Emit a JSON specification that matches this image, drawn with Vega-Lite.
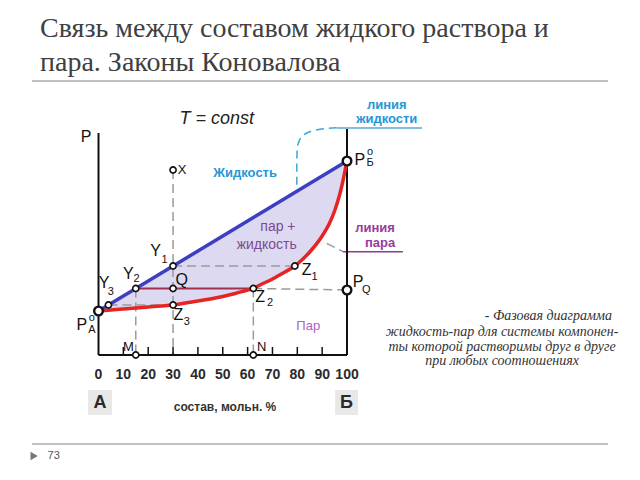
{
  "$schema": "https://vega.github.io/schema/vega-lite/v6.json",
  "autosize": {"type": "fit", "contains": "padding"},
  "width": 640,
  "height": 480,
  "padding": 0,
  "background": "white",
  "config": {"view": {"stroke": null}, "text": {"font": "Liberation Sans", "baseline": "middle"}},
  "encoding": {
    "x": {"field": "c", "type": "quantitative", "scale": {"domain": [-39.64, 217.9], "nice": false, "zero": false}, "axis": null},
    "y": {"field": "v", "type": "quantitative", "scale": {"domain": [-125, 355], "nice": false, "zero": false}, "axis": null}
  },
  "datasets": {
    "curve": [
      {"c": 0, "liq": 44, "vap": 44}, {"c": 5, "liq": 51.5, "vap": 45}, {"c": 10, "liq": 59, "vap": 46},
      {"c": 15, "liq": 66.5, "vap": 47}, {"c": 20, "liq": 74, "vap": 48}, {"c": 25, "liq": 81.5, "vap": 49},
      {"c": 30, "liq": 89, "vap": 50}, {"c": 35, "liq": 96.5, "vap": 52}, {"c": 40, "liq": 104, "vap": 54},
      {"c": 45, "liq": 111.5, "vap": 56}, {"c": 50, "liq": 119, "vap": 58.5}, {"c": 55, "liq": 126.5, "vap": 61.5},
      {"c": 60, "liq": 134, "vap": 65}, {"c": 62.3, "liq": 137.45, "vap": 66.5}, {"c": 65, "liq": 141.5, "vap": 70},
      {"c": 70, "liq": 149, "vap": 76}, {"c": 75, "liq": 156.5, "vap": 83}, {"c": 79, "liq": 162.5, "vap": 89},
      {"c": 80, "liq": 164, "vap": 91}, {"c": 85, "liq": 171.5, "vap": 103}, {"c": 90, "liq": 179, "vap": 119},
      {"c": 93, "liq": 183.5, "vap": 132}, {"c": 95, "liq": 186.5, "vap": 144}, {"c": 97, "liq": 189.5, "vap": 160},
      {"c": 98, "liq": 191, "vap": 170}, {"c": 99, "liq": 192.5, "vap": 182}, {"c": 100, "liq": 194, "vap": 194}
    ]
  },
  "layer": [
    {
      "data": {"name": "curve"},
      "mark": {"type": "area", "color": "#dcd9f0", "opacity": 1},
      "encoding": {
        "y": {"field": "liq", "type": "quantitative", "scale": {"domain": [-125, 355], "nice": false, "zero": false}, "axis": null},
        "y2": {"field": "vap"}
      }
    },
    {
      "data": {"values": [
        {"c": -26.8, "v": 274, "c2": 205, "v2": 274},
        {"c": -26.8, "v": -89, "c2": 205, "v2": -89}
      ]},
      "mark": {"type": "rule", "color": "#c0c0c0", "strokeWidth": 2},
      "encoding": {"x2": {"field": "c2"}, "y2": {"field": "v2"}}
    },
    {
      "data": {"values": [
        {"c": -4.2, "v": -35, "c2": 5.4, "v2": -60},
        {"c": 95.2, "v": -35, "c2": 104.4, "v2": -60}
      ]},
      "mark": {"type": "rect", "color": "#e8e8e8"},
      "encoding": {"x2": {"field": "c2"}, "y2": {"field": "v2"}}
    },
    {
      "data": {"values": [
        {"c": 30, "v": 89, "c2": 79, "v2": 89},
        {"c": 62.3, "v": 66.5, "c2": 100, "v2": 65},
        {"c": 4, "v": 50, "c2": 30, "v2": 50},
        {"c": 15, "v": 66.5, "c2": 15, "v2": 0},
        {"c": 30, "v": 185, "c2": 30, "v2": 0},
        {"c": 62.3, "v": 66.5, "c2": 62.3, "v2": 0},
        {"c": 91.8, "v": 111.7, "c2": 98.4, "v2": 103.3}
      ]},
      "mark": {"type": "rule", "color": "#9a9a9a", "strokeWidth": 1.5, "strokeDash": [9, 5]},
      "encoding": {"x2": {"field": "c2"}, "y2": {"field": "v2"}}
    },
    {
      "data": {"values": [
        {"c": 95.9, "v": 227.3, "o": 1}, {"c": 86.4, "v": 224.3, "o": 2}, {"c": 81.8, "v": 218.3, "o": 3},
        {"c": 80.0, "v": 208.3, "o": 4}, {"c": 79.8, "v": 191.7, "o": 5}, {"c": 79.8, "v": 165, "o": 6}
      ]},
      "mark": {"type": "line", "color": "#3aa6d8", "strokeWidth": 1.5, "strokeDash": [8, 5], "interpolate": "monotone"},
      "encoding": {"order": {"field": "o"}}
    },
    {
      "data": {"values": [
        {"c": 96, "v": 227, "c2": 130.2, "v2": 227}
      ]},
      "mark": {"type": "rule", "color": "#5aa6d6", "strokeWidth": 1.5},
      "encoding": {"x2": {"field": "c2"}, "y2": {"field": "v2"}}
    },
    {
      "data": {"values": [
        {"c": 98.4, "v": 103.3, "c2": 122.5, "v2": 103.3}
      ]},
      "mark": {"type": "rule", "color": "#8b3a8f", "strokeWidth": 1.5},
      "encoding": {"x2": {"field": "c2"}, "y2": {"field": "v2"}}
    },
    {
      "data": {"values": [
        {"c": 0, "v": 0, "c2": 0, "v2": 222},
        {"c": 100, "v": 0, "c2": 100, "v2": 226},
        {"c": 0, "v": 0, "c2": 100, "v2": 0}
      ]},
      "mark": {"type": "rule", "color": "#111111", "strokeWidth": 2},
      "encoding": {"x2": {"field": "c2"}, "y2": {"field": "v2"}}
    },
    {
      "data": {"values": [
        {"c": 10, "v": 0, "v2": 8}, {"c": 20, "v": 0, "v2": 8}, {"c": 30, "v": 0, "v2": 8},
        {"c": 40, "v": 0, "v2": 8}, {"c": 50, "v": 0, "v2": 8}, {"c": 60, "v": 0, "v2": 8},
        {"c": 70, "v": 0, "v2": 8}, {"c": 80, "v": 0, "v2": 8}, {"c": 90, "v": 0, "v2": 8}
      ]},
      "mark": {"type": "rule", "color": "#111111", "strokeWidth": 1.5},
      "encoding": {"y2": {"field": "v2"}}
    },
    {
      "data": {"values": [
        {"c": 15, "v": 66.5, "c2": 62.3, "v2": 66.5}
      ]},
      "mark": {"type": "rule", "color": "#a03050", "strokeWidth": 2},
      "encoding": {"x2": {"field": "c2"}, "y2": {"field": "v2"}}
    },
    {
      "data": {"name": "curve"},
      "mark": {"type": "line", "color": "#3d3fc2", "strokeWidth": 3.5},
      "encoding": {
        "y": {"field": "liq", "type": "quantitative", "scale": {"domain": [-125, 355], "nice": false, "zero": false}, "axis": null}
      }
    },
    {
      "data": {"name": "curve"},
      "mark": {"type": "line", "color": "#e62424", "strokeWidth": 3.5, "interpolate": "monotone"},
      "encoding": {
        "y": {"field": "vap", "type": "quantitative", "scale": {"domain": [-125, 355], "nice": false, "zero": false}, "axis": null}
      }
    },
    {
      "data": {"values": [
        {"c": 30, "v": 89}, {"c": 79, "v": 89}, {"c": 15, "v": 66.5}, {"c": 30, "v": 66.5},
        {"c": 62.3, "v": 66.5}, {"c": 4, "v": 50}, {"c": 30, "v": 50}, {"c": 30, "v": 185},
        {"c": 15, "v": 0}, {"c": 62.3, "v": 0}
      ]},
      "mark": {"type": "point", "shape": "circle", "filled": false, "fill": "white", "fillOpacity": 1, "stroke": "#111111", "strokeWidth": 1.6, "size": 38, "opacity": 1}
    },
    {
      "data": {"values": [
        {"c": 0, "v": 44}, {"c": 100, "v": 194}, {"c": 100, "v": 65}
      ]},
      "mark": {"type": "point", "shape": "circle", "filled": false, "fill": "white", "fillOpacity": 1, "stroke": "#111111", "strokeWidth": 2.4, "size": 75, "opacity": 1}
    },
    {
      "data": {"values": [{"c": -25.9, "v": -101}]},
      "mark": {"type": "point", "shape": "triangle-right", "filled": true, "color": "#777777", "size": 70, "opacity": 1}
    },
    {
      "data": {"values": [
        {"c": -23.54, "v": 318, "t": "Связь между составом жидкого раствора и"},
        {"c": -23.54, "v": 284, "t": "пара. Законы Коновалова"}
      ]},
      "mark": {"type": "text", "font": "Liberation Serif", "fontSize": 28, "color": "#404040", "align": "left", "baseline": "alphabetic"},
      "encoding": {"text": {"field": "t"}}
    },
    {
      "data": {"values": [{"c": -20.5, "v": -101, "t": "73"}]},
      "mark": {"type": "text", "fontSize": 11, "color": "#555555", "align": "left"},
      "encoding": {"text": {"field": "t"}}
    },
    {
      "data": {"values": [{"c": 206.6, "v": 39, "t": "- Фазовая диаграмма"}]},
      "mark": {"type": "text", "font": "Liberation Serif", "fontStyle": "italic", "fontSize": 14, "color": "#333333", "align": "right"},
      "encoding": {"text": {"field": "t"}}
    },
    {
      "data": {"values": [
        {"c": 162.4, "v": 22.7, "t": "жидкость-пар для системы компонен-"},
        {"c": 162.4, "v": 7.7, "t": "ты которой растворимы друг в друге"},
        {"c": 162.4, "v": -6, "t": "при любых соотношениях"}
      ]},
      "mark": {"type": "text", "font": "Liberation Serif", "fontStyle": "italic", "fontSize": 14, "color": "#333333", "align": "center"},
      "encoding": {"text": {"field": "t"}}
    },
    {
      "data": {"values": [
        {"c": 0, "v": -20, "t": "0"}, {"c": 10, "v": -20, "t": "10"}, {"c": 20, "v": -20, "t": "20"},
        {"c": 30, "v": -20, "t": "30"}, {"c": 40, "v": -20, "t": "40"}, {"c": 50, "v": -20, "t": "50"},
        {"c": 60, "v": -20, "t": "60"}, {"c": 70, "v": -20, "t": "70"}, {"c": 80, "v": -20, "t": "80"},
        {"c": 90, "v": -20, "t": "90"}, {"c": 100, "v": -20, "t": "100"}
      ]},
      "mark": {"type": "text", "fontSize": 14, "fontWeight": "bold", "color": "#2a2a2a", "align": "center"},
      "encoding": {"text": {"field": "t"}}
    },
    {
      "data": {"values": [
        {"c": 0.6, "v": -47.5, "t": "А"}, {"c": 99.8, "v": -47.5, "t": "Б"}
      ]},
      "mark": {"type": "text", "fontSize": 18, "fontWeight": "bold", "color": "#2a2a2a", "align": "center"},
      "encoding": {"text": {"field": "t"}}
    },
    {
      "data": {"values": [{"c": 50.9, "v": -52, "t": "состав, мольн. %"}]},
      "mark": {"type": "text", "fontSize": 12, "fontWeight": "bold", "color": "#333333", "align": "center"},
      "encoding": {"text": {"field": "t"}}
    },
    {
      "data": {"values": [{"c": 47.6, "v": 236, "t": "T = const"}]},
      "mark": {"type": "text", "fontSize": 18, "fontStyle": "italic", "color": "#222222", "align": "center"},
      "encoding": {"text": {"field": "t"}}
    },
    {
      "data": {"values": [
        {"c": 116, "v": 250, "t": "линия"}, {"c": 116, "v": 236, "t": "жидкости"}, {"c": 59, "v": 182, "t": "Жидкость"}
      ]},
      "mark": {"type": "text", "fontSize": 13, "fontWeight": "bold", "color": "#2596d6", "align": "center"},
      "encoding": {"text": {"field": "t"}}
    },
    {
      "data": {"values": [
        {"c": 72.2, "v": 128.3, "t": "пар +"}, {"c": 67.7, "v": 110, "t": "жидкость"}
      ]},
      "mark": {"type": "text", "fontSize": 14, "color": "#7e4a94", "align": "center"},
      "encoding": {"text": {"field": "t"}}
    },
    {
      "data": {"values": [
        {"c": 111.3, "v": 127.5, "t": "линия"}, {"c": 113.3, "v": 112.5, "t": "пара"}
      ]},
      "mark": {"type": "text", "fontSize": 13, "fontWeight": "bold", "color": "#9a3a9e", "align": "center"},
      "encoding": {"text": {"field": "t"}}
    },
    {
      "data": {"values": [{"c": 84.4, "v": 29, "t": "Пар"}]},
      "mark": {"type": "text", "fontSize": 13, "color": "#b060c0", "align": "center"},
      "encoding": {"text": {"field": "t"}}
    },
    {
      "data": {"values": [
        {"c": -5.0, "v": 218, "t": "P"},
        {"c": 23.0, "v": 104, "t": "Y"}, {"c": 83.8, "v": 85, "t": "Z"},
        {"c": 12.0, "v": 81, "t": "Y"}, {"c": 33.5, "v": 75, "t": "Q"},
        {"c": 65.0, "v": 58.3, "t": "Z"}, {"c": 2.2, "v": 71.7, "t": "Y"},
        {"c": 32.1, "v": 40, "t": "Z"}, {"c": -6.75, "v": 30, "t": "P"},
        {"c": 105.2, "v": 195, "t": "P"}, {"c": 104.5, "v": 73.3, "t": "P"}
      ]},
      "mark": {"type": "text", "fontSize": 16, "color": "#111111", "align": "center"},
      "encoding": {"text": {"field": "t"}}
    },
    {
      "data": {"values": [
        {"c": 26.6, "v": 95.5, "t": "1"}, {"c": 86.9, "v": 78.3, "t": "1"},
        {"c": 15.3, "v": 76.5, "t": "2"}, {"c": 69.0, "v": 51.7, "t": "2"},
        {"c": 5.0, "v": 63, "t": "3"}, {"c": 35.5, "v": 33.3, "t": "3"},
        {"c": -2.7, "v": 36.7, "t": "o"}, {"c": -2.7, "v": 25, "t": "А"},
        {"c": 109.3, "v": 203.3, "t": "o"}, {"c": 109.3, "v": 192, "t": "Б"},
        {"c": 107.8, "v": 65, "t": "Q"}
      ]},
      "mark": {"type": "text", "fontSize": 11, "color": "#111111", "align": "center"},
      "encoding": {"text": {"field": "t"}}
    },
    {
      "data": {"values": [
        {"c": 33.6, "v": 185, "t": "X"}, {"c": 12.0, "v": 8.3, "t": "M"}, {"c": 65.7, "v": 8.3, "t": "N"}
      ]},
      "mark": {"type": "text", "fontSize": 13, "color": "#111111", "align": "center"},
      "encoding": {"text": {"field": "t"}}
    }
  ]
}
